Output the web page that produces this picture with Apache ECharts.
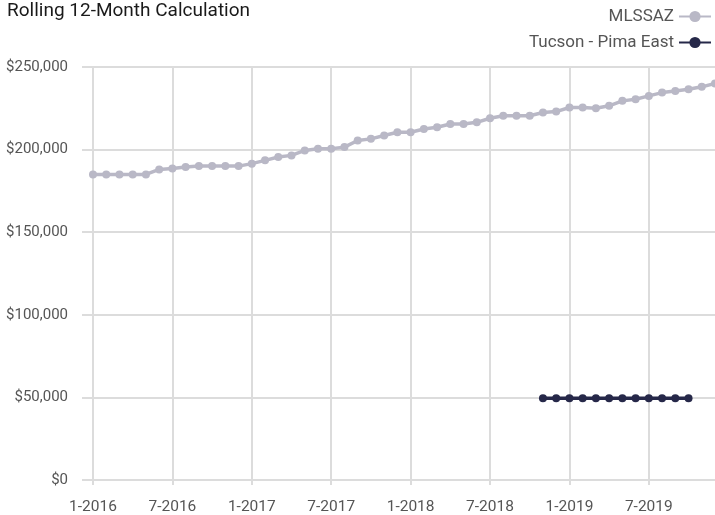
<!DOCTYPE html>
<html>
<head>
<meta charset="utf-8">
<script src="https://cdn.jsdelivr.net/npm/echarts@6/dist/echarts.min.js"></script>
<style>
  html, body { margin: 0; padding: 0; background: #ffffff; }
  #chart { width: 715px; height: 515px; }
</style>
</head>
<body>
<div id="chart"></div>
<script>
// Monthly categories, Jan 2016 through Dec 2019
const months = [
  '1-2016','2-2016','3-2016','4-2016','5-2016','6-2016','7-2016','8-2016','9-2016','10-2016','11-2016','12-2016',
  '1-2017','2-2017','3-2017','4-2017','5-2017','6-2017','7-2017','8-2017','9-2017','10-2017','11-2017','12-2017',
  '1-2018','2-2018','3-2018','4-2018','5-2018','6-2018','7-2018','8-2018','9-2018','10-2018','11-2018','12-2018',
  '1-2019','2-2019','3-2019','4-2019','5-2019','6-2019','7-2019','8-2019','9-2019','10-2019','11-2019','12-2019'
];

// Rolling 12-month median price, MLSSAZ
const mlssaz = [
  185000, 185000, 185000, 185000, 185000, 188000, 188500, 189500, 190000, 190000, 190000, 190000,
  191500, 193500, 195500, 196500, 199500, 200500, 200500, 201500, 205500, 206500, 208500, 210500,
  210500, 212500, 213500, 215500, 215500, 216500, 219000, 220500, 220500, 220500, 222500, 223000,
  225500, 225500, 225000, 226500, 229500, 230500, 232500, 234500, 235500, 236500, 238000, 240000
];

// Tucson - Pima East, reported Nov 2018 through Oct 2019
const tucsonPimaEast = [
  null, null, null, null, null, null, null, null, null, null, null, null,
  null, null, null, null, null, null, null, null, null, null, null, null,
  null, null, null, null, null, null, null, null, null, null, 49500, 49500,
  49500, 49500, 49500, 49500, 49500, 49500, 49500, 49500, 49500, 49500, null, null
];

// Labelled ticks along the time axis
const tickLabels = ['1-2016','7-2016','1-2017','7-2017','1-2018','7-2018','1-2019','7-2019'];

const FONT = 'Roboto, "Liberation Sans", sans-serif';
const GRID = '#dcdcdc';

const chart = echarts.init(document.getElementById('chart'), null, { renderer: 'canvas' });

const showTick = (idx) => tickLabels.indexOf(months[idx]) !== -1;

chart.setOption({
  animation: false,
  backgroundColor: '#ffffff',
  title: {
    text: 'Rolling 12-Month Calculation',
    left: 7,
    top: 2,
    padding: 0,
    textStyle: { fontFamily: FONT, fontSize: 19, fontWeight: 'normal', color: '#1a1a1a' }
  },
  legend: {
    orient: 'vertical',
    right: 3,
    top: 8,
    padding: 0,
    align: 'right',
    itemWidth: 32,
    itemHeight: 14,
    itemGap: 9,
    textStyle: { fontFamily: FONT, fontSize: 17, color: '#555555' },
    data: ['MLSSAZ', 'Tucson - Pima East']
  },
  grid: { left: 93, right: -2, top: 67, bottom: 35, containLabel: false },
  xAxis: {
    type: 'category',
    boundaryGap: false,
    data: months,
    axisLine: { show: true, lineStyle: { color: GRID, width: 2 } },
    axisTick: { show: true, length: 5, interval: (idx) => showTick(idx), lineStyle: { color: GRID, width: 2 } },
    splitLine: { show: true, interval: (idx) => showTick(idx), lineStyle: { color: GRID, width: 2 } },
    axisLabel: {
      interval: (idx) => showTick(idx),
      margin: 19,
      fontFamily: FONT, fontSize: 15.5, color: '#555555'
    }
  },
  yAxis: {
    type: 'value',
    min: 0,
    max: 250000,
    interval: 50000,
    axisLine: { show: false },
    axisTick: { show: true, length: 11, lineStyle: { color: GRID, width: 2 } },
    splitLine: { show: true, lineStyle: { color: GRID, width: 2 } },
    axisLabel: {
      margin: 25,
      fontFamily: FONT, fontSize: 15, color: '#555555',
      formatter: (v) => '$' + v.toLocaleString('en-US')
    }
  },
  series: [
    {
      name: 'MLSSAZ',
      type: 'line',
      data: mlssaz,
      color: '#b9b8c6',
      symbol: 'circle',
      symbolSize: 8,
      showAllSymbol: true,
      lineStyle: { width: 3.5 },
      z: 2
    },
    {
      name: 'Tucson - Pima East',
      type: 'line',
      data: tucsonPimaEast,
      color: '#262849',
      symbol: 'circle',
      symbolSize: 8,
      showAllSymbol: true,
      lineStyle: { width: 3.5 },
      z: 3
    }
  ]
});
</script>
</body>
</html>
